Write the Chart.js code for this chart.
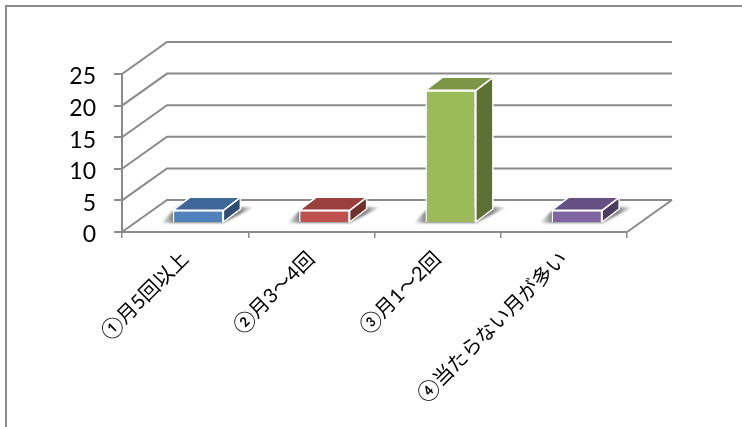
<!DOCTYPE html>
<html>
<head>
<meta charset="utf-8">
<script src="https://cdn.jsdelivr.net/npm/chart.js"></script>
<style>
  body { margin: 0; background: #fff; }
</style>
</head>
<body>
<canvas id="my-chart" width="742" height="427"></canvas>
<script>
const categories = ['①月5回以上', '②月3～4回', '③月1～2回', '④当たらない月が多い'];
const values = [2, 2, 21, 2];
const frontColors = ['#4f81bd', '#c0504d', '#9bbb59', '#8064a2'];
const topColors = ['#3f6797', '#9a403e', '#7c9647', '#664f82'];
const sideColors = ['#2f4d71', '#73302e', '#5d7035', '#4c3c61'];

const axisColor = '#8a8a8a';
// depth of the floor, and how far the bars stand in from the front edge
const wallDx = 45, wallDy = -32;
const barDx = 13, barDy = -9;
const depthDx = 17, depthDy = -13;

function poly(ctx, pts) {
    ctx.beginPath();
    pts.forEach((p, i) => i ? ctx.lineTo(p[0], p[1]) : ctx.moveTo(p[0], p[1]));
    ctx.closePath();
}

const box3d = {
    id: 'box3d',
    beforeDraw(chart) {
        // outer chart frame
        const ctx = chart.ctx;
        ctx.save();
        ctx.strokeStyle = axisColor;
        ctx.lineWidth = 2;
        ctx.beginPath();
        ctx.moveTo(6, 427);
        ctx.lineTo(6, 6);
        ctx.lineTo(742, 6);
        ctx.stroke();
        ctx.restore();
    },
    beforeDatasetsDraw(chart) {
        const ctx = chart.ctx;
        const { left, right, bottom } = chart.chartArea;
        const y = chart.scales.y;
        ctx.save();
        ctx.strokeStyle = axisColor;
        ctx.lineWidth = 2;
        y.ticks.forEach(t => {
            const py = y.getPixelForValue(t.value);
            ctx.beginPath();
            ctx.moveTo(left, py);
            ctx.lineTo(left + wallDx, py + wallDy);
            ctx.lineTo(right + wallDx, py + wallDy);
            ctx.stroke();
        });
        // right edge of the floor
        ctx.beginPath();
        ctx.moveTo(right, bottom);
        ctx.lineTo(right + wallDx, bottom + wallDy);
        ctx.stroke();

        // shadows, then the top and side faces of each bar
        const meta = chart.getDatasetMeta(0);
        meta.data.forEach((bar, i) => {
            const x0 = bar.x - bar.width / 2 + barDx;
            const x1 = bar.x + bar.width / 2 + barDx;
            const yTop = bar.y + barDy;
            const yBase = bar.base + barDy;

            const g = ctx.createLinearGradient(x0 - 12, 0, x1 + depthDx + 14, 0);
            g.addColorStop(0, 'rgba(110,110,110,0)');
            g.addColorStop(0.13, 'rgba(110,110,110,0.85)');
            g.addColorStop(0.84, 'rgba(110,110,110,0.85)');
            g.addColorStop(1, 'rgba(110,110,110,0)');
            ctx.save();
            ctx.filter = 'blur(1px)';
            ctx.fillStyle = g;
            poly(ctx, [[x0 - 12, yBase + 1], [x1, yBase + 1], [x1 + depthDx + 14, yBase + depthDy - 2], [x0 + 4, yBase + depthDy - 2]]);
            ctx.fill();
            ctx.restore();

            ctx.strokeStyle = '#fff';
            ctx.lineWidth = 1.5;
            ctx.lineJoin = 'round';
            ctx.fillStyle = sideColors[i];
            poly(ctx, [[x1, yTop], [x1 + depthDx, yTop + depthDy], [x1 + depthDx, yBase + depthDy], [x1, yBase]]);
            ctx.fill();
            ctx.stroke();
            ctx.fillStyle = topColors[i];
            poly(ctx, [[x0, yTop], [x0 + depthDx, yTop + depthDy], [x1 + depthDx, yTop + depthDy], [x1, yTop]]);
            ctx.fill();
            ctx.stroke();
        });
        ctx.restore();
    },
    beforeDatasetDraw(chart) {
        chart.ctx.save();
        chart.ctx.translate(barDx, barDy);
    },
    afterDatasetDraw(chart) {
        chart.ctx.restore();
    },
    // y tick labels have z 1, so they come after this: nudge them down a bit
    afterDatasetsDraw(chart) {
        chart.ctx.save();
        chart.ctx.translate(0, 3);
    },
    afterDraw(chart) {
        chart.ctx.restore();
    }
};

new Chart(document.getElementById('my-chart').getContext('2d'), {
    type: 'bar',
    data: {
        labels: categories,
        datasets: [{
            data: values,
            backgroundColor: frontColors,
            borderColor: '#fff',
            borderWidth: 1.5,
            barPercentage: 0.4,
            categoryPercentage: 1
        }]
    },
    options: {
        responsive: false,
        animation: false,
        layout: { padding: { top: 74, right: 115 } },
        plugins: { legend: { display: false }, tooltip: { enabled: false } },
        scales: {
            x: {
                afterFit: scale => { scale.height = 195; },
                border: { color: axisColor, width: 2 },
                grid: { offset: true, drawOnChartArea: false, color: axisColor, lineWidth: 1.5, tickLength: 6 },
                ticks: {
                    color: '#000',
                    font: { family: 'Lato, "DejaVu Sans", "Noto Sans CJK JP"', size: 20 },
                    maxRotation: 45,
                    minRotation: 45,
                    autoSkip: false,
                    padding: 9
                }
            },
            y: {
                min: 0,
                max: 25,
                afterFit: scale => { scale.width = 122; },
                border: { color: axisColor, width: 2 },
                grid: { drawOnChartArea: false, color: axisColor, lineWidth: 2, tickLength: 8 },
                ticks: {
                    stepSize: 5,
                    color: '#000',
                    font: { family: 'Lato', size: 23 },
                    padding: 18,
                    z: 1
                }
            }
        }
    },
    plugins: [box3d]
});
</script>
</body>
</html>
